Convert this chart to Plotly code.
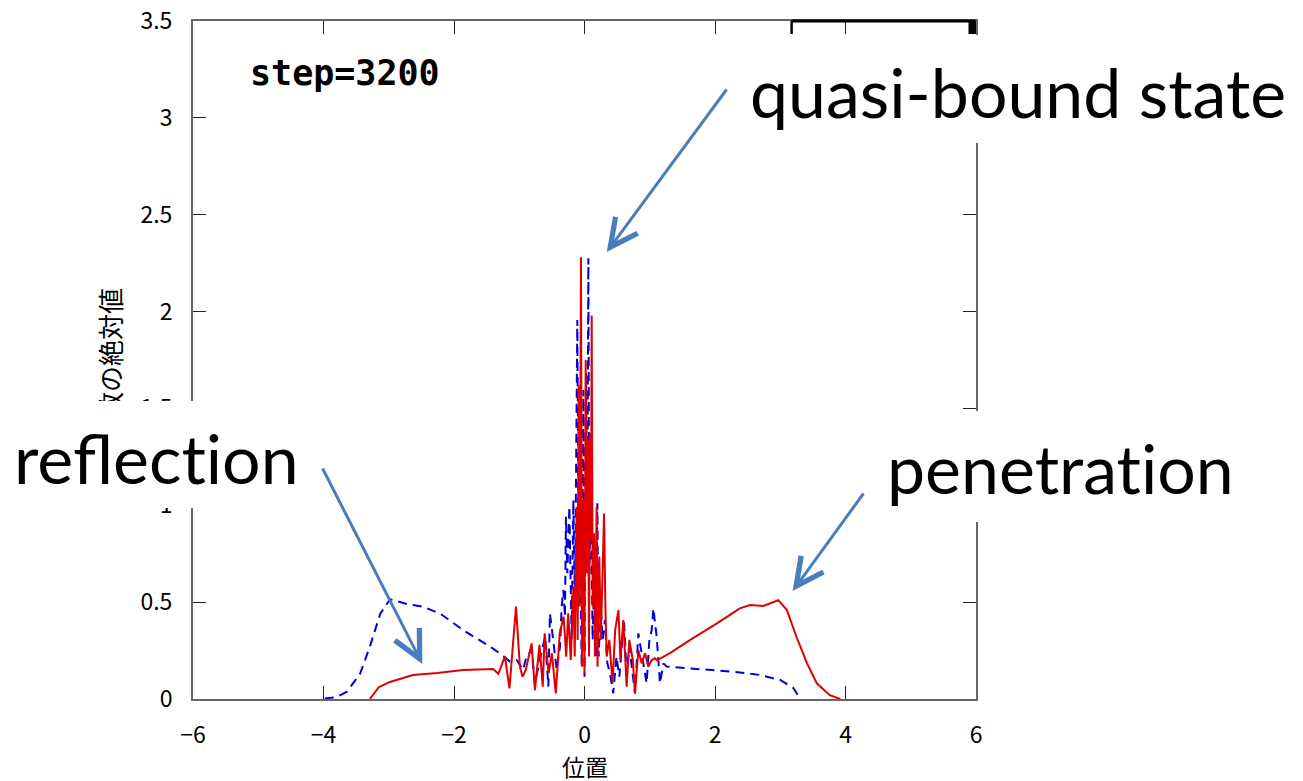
import plotly.graph_objects as go

# ---- data (curves are zero outside the listed span) ----
red_x = [-3.29, -3.22, -3.15, -2.98, -2.63, -2.26, -1.86, -1.40, -1.32, -1.22, -1.15, -1.05, -0.99,
         -0.95, -0.90, -0.81, -0.76, -0.69, -0.64, -0.61, -0.55, -0.50, -0.44, -0.38, -0.32, -0.28, -0.25,
         -0.21, -0.17, -0.15, -0.12, -0.105, -0.09, -0.074, -0.054, -0.038, -0.018, 0.0, 0.018, 0.033,
         0.054, 0.069, 0.084, 0.10, 0.11, 0.125, 0.146, 0.16, 0.186, 0.20, 0.227, 0.25, 0.273, 0.30, 0.32,
         0.34, 0.38, 0.43, 0.47, 0.52, 0.55, 0.595, 0.646, 0.687, 0.74, 0.774, 0.825, 0.876, 0.927, 0.978,
         1.03, 1.08, 1.11, 1.31, 1.62, 2.03, 2.38, 2.54, 2.74, 2.97, 3.10, 3.25, 3.41, 3.56, 3.76, 3.92]
red_y = [0, 0.03, 0.062, 0.088, 0.124, 0.134, 0.15, 0.155, 0.13, 0.22, 0.055, 0.477, 0.167,
         0.115, 0.15, 0.287, 0.046, 0.279, 0.064, 0.339, 0.133, 0.236, 0.029, 0.339, 0.425, 0.219, 0.442,
         0.201, 0.58, 0.219, 0.993, 0.305, 1.62, 0.477, 2.28, 0.167, 1.027, 0.133, 1.75, 0.649,
         1.337, 0.219, 1.37, 0.82, 1.98, 0.477, 0.855, 0.219, 0.993, 0.167, 0.735, 0.305, 0.563, 0.958, 0.477,
         0.219, 0.305, 0.081, 0.356, 0.459, 0.201, 0.408, 0.064, 0.305, 0.201, 0.029, 0.253, 0.184, 0.236, 0.167,
         0.201, 0.21, 0.2, 0.237, 0.305, 0.39, 0.468, 0.485, 0.48, 0.51, 0.46, 0.32, 0.184, 0.081, 0.02, 0.0]

blue_x = [-3.98, -3.80, -3.64, -3.44, -3.29, -3.13, -2.98, -2.72, -2.47, -2.21, -1.86, -1.56,
          -1.40, -1.24, -1.14, -1.04, -0.94, -0.89, -0.81, -0.76, -0.68, -0.605, -0.554, -0.53, -0.48,
          -0.427, -0.375, -0.35, -0.324, -0.30, -0.284, -0.263, -0.232, -0.197, -0.171, -0.146, -0.11,
          -0.09, -0.069, -0.043, -0.018, 0.0, 0.023, 0.043, 0.059, 0.074, 0.095, 0.125, 0.15, 0.176, 0.197,
          0.217, 0.248, 0.278, 0.314, 0.35, 0.39, 0.44, 0.49, 0.534, 0.605, 0.646, 0.687, 0.748, 0.774,
          0.825, 0.90, 0.952, 0.994, 1.03, 1.055, 1.106, 1.157, 1.21, 1.26, 1.67, 2.28, 2.69, 3.0, 3.20,
          3.30]
blue_y = [0.003, 0.01, 0.038, 0.13, 0.27, 0.44, 0.515, 0.49, 0.476, 0.44, 0.356, 0.296,
          0.26, 0.22, 0.193, 0.201, 0.15, 0.219, 0.253, 0.081, 0.201, 0.322, 0.064, 0.442, 0.305,
          0.15, 0.27, 0.477, 0.563, 0.425, 0.941, 0.649, 0.993, 0.305, 1.027, 0.477, 1.957,
          0.649, 0.821, 0.167, 1.595, 0.115, 1.681, 0.821, 2.275, 0.649, 1.079, 0.305, 0.649, 0.219, 1.01,
          0.219, 0.477, 0.305, 0.408, 0.184, 0.133, 0.029, 0.219, 0.115, 0.408, 0.133, 0.27, 0.081, 0.029,
          0.339, 0.184, 0.081, 0.305, 0.356, 0.468, 0.322, 0.081, 0.184, 0.167, 0.158, 0.141, 0.124, 0.098, 0.057,
          0.005]

x_ticks = [-6, -4, -2, 0, 2, 4, 6]
y_ticks = [0, 0.5, 1, 1.5, 2, 2.5, 3, 3.5]
y_tick_text = ["0", "0.5", "1", "1.5", "2", "2.5", "3", "3.5"]

x_title = "位置"
y_title = "波動関数の絶対値"
step_label = "step=3200"
ZWNJ = "\u200c"  # keeps the 't' and 'i' as separate glyphs
labels = {"quasi": "quasi-bound state",
          "refl": "reflect" + ZWNJ + "ion",
          "pen": "penetrat" + ZWNJ + "ion"}

# ---- layout geometry ----
W, H = 1303, 781
L, R, T, B = 193, 976.5, 21, 699
PW, PH = R - L, B - T


def px(xp):
    return (xp - L) / PW


def py(yp):
    return (B - yp) / PH


TICK_FONT = dict(family="Liberation Sans Narrow, Noto Sans CJK JP, sans-serif", size=23, color="black")
SLIDE_FONT = dict(family="Lato, Open Sans, sans-serif", size=68, color="black")
ARROW_C = "#4A7EBB"

fig = go.Figure()
fig.add_trace(go.Scatter(x=blue_x, y=blue_y, mode="lines",
                         line=dict(color="#0000DD", width=2, dash="9px,6px"), showlegend=False))
fig.add_trace(go.Scatter(x=red_x, y=red_y, mode="lines",
                         line=dict(color="#E00000", width=2), showlegend=False))

axis_common = dict(showline=True, linecolor="#666666", linewidth=2, mirror="ticks",
                   ticks="inside", ticklen=13, tickcolor="#222222", tickwidth=1.2,
                   showgrid=False, zeroline=False, tickfont=TICK_FONT, automargin=False,
                   layer="above traces")
fig.update_xaxes(range=[-6, 6], tickvals=x_ticks, ticklabelstandoff=14, **axis_common)
fig.update_yaxes(range=[0, 3.5], tickvals=y_ticks, ticktext=y_tick_text, ticklabelstandoff=14, **axis_common)

shapes = [
    # legend key box (mostly hidden)
    dict(type="line", xref="paper", yref="paper", x0=px(792), x1=px(976), y0=py(21), y1=py(21),
         line=dict(color="black", width=3)),
    dict(type="line", xref="paper", yref="paper", x0=px(792), x1=px(792), y0=py(21), y1=py(34),
         line=dict(color="black", width=2.5)),
    dict(type="rect", xref="paper", yref="paper", x0=px(969), x1=px(976.5), y0=py(21), y1=py(34),
         fillcolor="black", line=dict(width=0)),
]

annotations = []
# y axis title (partly hidden by the text box)
annotations.append(dict(xref="paper", yref="paper", x=px(109), y=py(287), xanchor="center", yanchor="top",
                        text=y_title, textangle=-90, showarrow=False, borderpad=0,
                        font=dict(family="Noto Sans CJK JP, sans-serif", size=26, color="black")))
# x axis title
annotations.append(dict(xref="paper", yref="paper", x=px(585), y=py(766), xanchor="center", yanchor="middle",
                        text=x_title, showarrow=False,
                        font=dict(family="Noto Sans CJK JP, sans-serif", size=23, color="black")))
# step label
annotations.append(dict(xref="paper", yref="paper", x=px(248), y=py(73), xanchor="left", yanchor="middle",
                        text="<b>" + step_label + "</b>", showarrow=False,
                        font=dict(family="DejaVu Sans Mono, monospace", size=35, color="black")))


def white_box(x0, y0, x1, y1):
    return dict(xref="paper", yref="paper", x=px(x0), y=py(y0), xanchor="left", yanchor="top",
                width=x1 - x0, height=y1 - y0, text=" ", showarrow=False, bgcolor="white",
                borderpad=0, borderwidth=0)


annotations.append(white_box(740, 35, 1303, 143))
annotations.append(white_box(0, 401, 312, 508))
annotations.append(white_box(878, 411, 1262, 522))

annotations.append(dict(xref="paper", yref="paper", x=px(748), y=py(91), xanchor="left", yanchor="middle",
                        text=labels["quasi"], showarrow=False, font=SLIDE_FONT))
annotations.append(dict(xref="paper", yref="paper", x=px(12), y=py(457), xanchor="left", yanchor="middle",
                        text=labels["refl"], showarrow=False, font=SLIDE_FONT))
annotations.append(dict(xref="paper", yref="paper", x=px(885), y=py(467), xanchor="left", yanchor="middle",
                        text=labels["pen"], showarrow=False, font=SLIDE_FONT))


def arrow(hx, hy, tx, ty):
    # head given in pixel space, converted to data coordinates
    return dict(xref="x", yref="y", x=-6 + (hx - L) / PW * 12, y=(B - hy) / PH * 3.5,
                ax=tx - hx, ay=ty - hy, axref="pixel", ayref="pixel", text="", showarrow=True,
                arrowhead=5, arrowsize=1.8, arrowwidth=3, arrowcolor=ARROW_C, standoff=0)


annotations.append(arrow(607, 252, 728, 88))
annotations.append(arrow(422.5, 664, 322, 467))
annotations.append(arrow(793, 591, 865, 492))

fig.update_layout(width=W, height=H, margin=dict(l=L, r=W - R, t=T, b=H - B),
                  paper_bgcolor="white", plot_bgcolor="white",
                  shapes=shapes, annotations=annotations, showlegend=False)

fig.write_html("out.html")
